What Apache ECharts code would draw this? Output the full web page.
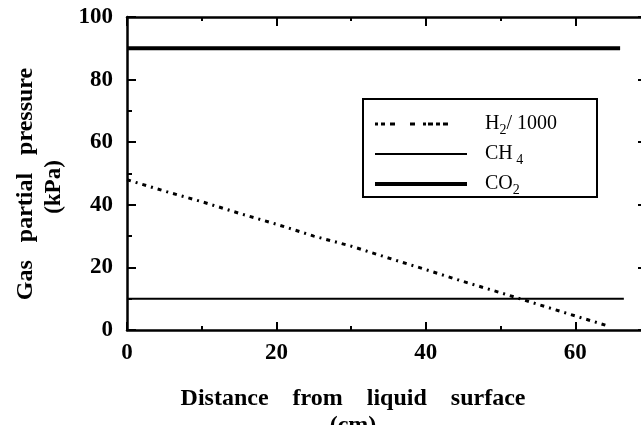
<!DOCTYPE html>
<html>
<head>
<meta charset="utf-8">
<script src="https://cdn.jsdelivr.net/npm/echarts@6/dist/echarts.min.js"></script>
<style>
  html, body { margin: 0; padding: 0; background: #fff; }
  #chart { width: 641px; height: 425px; }
</style>
</head>
<body>
<div id="chart"></div>
<script>
// values (distance in cm, pressure in kPa)
const h2Distance = [0, 5, 10, 15, 20, 25, 30, 35, 40, 45, 50, 55, 60, 64.5];
const h2Pressure = [48.0, 44.4, 41.0, 37.3, 33.8, 30.0, 26.8, 23.0, 19.3, 15.5, 11.9, 8.2, 4.5, 1.2];
const ch4Distance = [0, 66.5];
const ch4Pressure = [10, 10];
const co2Distance = [0, 66];
const co2Pressure = [90, 90];

const seriesNames = ['H2/1000', 'CH4', 'CO2'];
const legendLabels = {
  'H2/1000': '{p| }{n|H}{s|2}{n|/ 1000}',
  'CH4': '{p| }{n|CH}{s| 4}',
  'CO2': '{p| }{n|CO}{s|2}'
};

const xMin = 0, xMax = 70, xStep = 20;
const yMin = 0, yMax = 100, yStep = 20;

const pairs = (xs, ys) => xs.map((x, i) => [x, ys[i]]);

const serif = 'Liberation Serif, Times New Roman, serif';

const h2Icon = 'path://M0,0h3v3h-3z M6,0h4v3h-4z M15,0h5v3h-5z M35,0h5v3h-5z M48,0h3v3h-3z M53,0h5v3h-5z M61,0h4v3h-4z M68,0h5v3h-5z M92,1.5h0.01';
const ch4Icon = 'path://M0,0h92v2h-92z';
const co2Icon = 'path://M0,0h92v4h-92z';

const chart = echarts.init(document.getElementById('chart'));

const frameLine = { show: true, onZero: false, lineStyle: { color: '#000', width: 2.5 } };
const tickLine = { color: '#000', width: 2 };

chart.setOption({
  animation: false,
  backgroundColor: '#fff',
  // the right edge of the frame sits just outside the picture
  grid: { left: 127, top: 17, width: 523, height: 313, outerBoundsMode: 'none', containLabel: false },
  legend: {
    left: 363,
    top: 99,
    orient: 'vertical',
    borderColor: '#000',
    borderWidth: 2,
    padding: [12, 40, 0, 12],
    itemWidth: 92,
    itemHeight: 14,
    itemGap: 4,
    itemStyle: { borderWidth: 0 },
    data: [
      { name: seriesNames[0], icon: h2Icon },
      { name: seriesNames[1], icon: ch4Icon },
      { name: seriesNames[2], icon: co2Icon }
    ],
    formatter: (name) => legendLabels[name],
    textStyle: {
      color: '#000',
      fontFamily: serif,
      rich: {
        p: { width: 13 },
        n: { fontFamily: serif, fontSize: 20, lineHeight: 22, color: '#000' },
        s: { fontFamily: serif, fontSize: 14, lineHeight: 14, padding: [12, 0, 0, 0], color: '#000' }
      }
    }
  },
  xAxis: [
    {
      type: 'value',
      position: 'bottom',
      min: xMin,
      max: xMax,
      interval: xStep,
      axisLine: frameLine,
      axisTick: { inside: true, length: 8, lineStyle: tickLine },
      minorTick: { show: true, splitNumber: 2, length: 4, lineStyle: tickLine },
      splitLine: { show: false },
      axisLabel: {
        margin: 12,
        showMaxLabel: false,
        color: '#000',
        fontFamily: serif,
        fontWeight: 'bold',
        fontSize: 23
      }
    },
    {
      type: 'value',
      position: 'top',
      min: xMin,
      max: xMax,
      interval: xStep,
      axisLine: frameLine,
      axisTick: { inside: true, length: 9, lineStyle: tickLine },
      minorTick: { show: true, splitNumber: 2, length: 4, lineStyle: tickLine },
      splitLine: { show: false },
      axisLabel: { show: false }
    }
  ],
  yAxis: [
    {
      type: 'value',
      position: 'left',
      min: yMin,
      max: yMax,
      interval: yStep,
      axisLine: frameLine,
      axisTick: { inside: true, length: 9, lineStyle: tickLine },
      minorTick: { show: true, splitNumber: 2, length: 5, lineStyle: tickLine },
      splitLine: { show: false },
      axisLabel: {
        margin: 14,
        color: '#000',
        fontFamily: serif,
        fontWeight: 'bold',
        fontSize: 23
      }
    },
    {
      type: 'value',
      position: 'right',
      min: yMin,
      max: yMax,
      interval: yStep,
      axisLine: frameLine,
      axisTick: { inside: true, length: 12, lineStyle: tickLine },
      splitLine: { show: false },
      axisLabel: { show: false }
    }
  ],
  graphic: [
    {
      type: 'text', x: 26, y: 184, rotation: Math.PI / 2,
      style: {
        text: 'Gas   partial   pressure',
        font: 'bold 24px ' + serif, fill: '#000',
        align: 'center', verticalAlign: 'middle'
      }
    },
    {
      type: 'text', x: 54, y: 187, rotation: Math.PI / 2,
      style: {
        text: '(kPa)',
        font: 'bold 23px ' + serif, fill: '#000',
        align: 'center', verticalAlign: 'middle'
      }
    },
    {
      type: 'text', x: 353, y: 399,
      style: {
        text: 'Distance    from    liquid    surface',
        font: 'bold 24px ' + serif, fill: '#000',
        align: 'center', verticalAlign: 'middle'
      }
    },
    {
      type: 'text', x: 353, y: 426,
      style: {
        text: '(cm)',
        font: 'bold 24px ' + serif, fill: '#000',
        align: 'center', verticalAlign: 'middle'
      }
    }
  ],
  series: [
    {
      name: seriesNames[0],
      type: 'line',
      symbol: 'none',
      color: '#000',
      data: pairs(h2Distance, h2Pressure),
      lineStyle: { color: '#000', width: 3, type: [4, 5, 2, 5], cap: 'butt' }
    },
    {
      name: seriesNames[1],
      type: 'line',
      symbol: 'none',
      color: '#000',
      data: pairs(ch4Distance, ch4Pressure),
      lineStyle: { color: '#000', width: 2 }
    },
    {
      name: seriesNames[2],
      type: 'line',
      symbol: 'none',
      color: '#000',
      data: pairs(co2Distance, co2Pressure),
      lineStyle: { color: '#000', width: 4 }
    }
  ]
});
</script>
</body>
</html>
